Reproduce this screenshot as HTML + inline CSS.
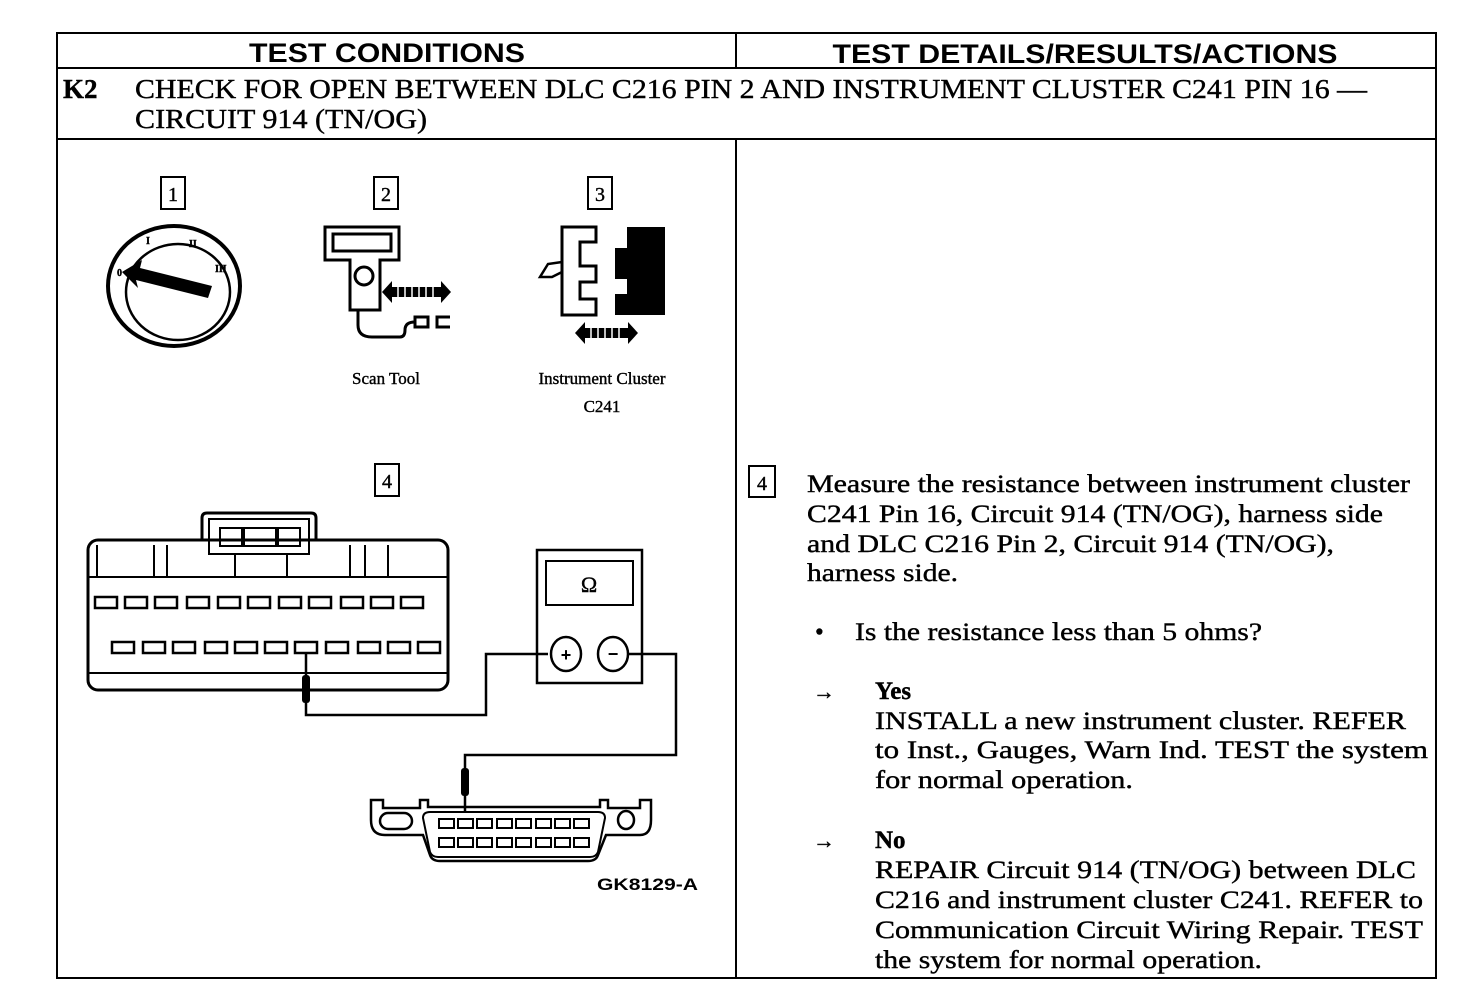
<!DOCTYPE html>
<html><head><meta charset="utf-8"><style>
html,body{margin:0;padding:0;background:#fff;}
svg{display:block;}
.s{font-family:"Liberation Serif",serif;fill:#000;stroke:#000;stroke-width:0.4;}
.h{font-family:"Liberation Sans",sans-serif;font-weight:bold;fill:#000;}
</style></head><body>
<svg width="1472" height="986" viewBox="0 0 1472 986" xmlns="http://www.w3.org/2000/svg">
<g stroke="#000" fill="none" stroke-width="2">
<rect x="57" y="33" width="1379" height="945"/>
<line x1="57" y1="68" x2="1436" y2="68"/>
<line x1="57" y1="139" x2="1436" y2="139"/>
<line x1="736" y1="33" x2="736" y2="68"/>
<line x1="736" y1="139" x2="736" y2="978"/>
</g>
<text class="h" x="387" y="62" font-size="27" text-anchor="middle" textLength="276" lengthAdjust="spacingAndGlyphs">TEST CONDITIONS</text>
<text class="h" x="1085" y="63" font-size="27" text-anchor="middle" textLength="505" lengthAdjust="spacingAndGlyphs">TEST DETAILS/RESULTS/ACTIONS</text>
<text class="s" x="63" y="98" font-size="27" font-weight="bold">K2</text>
<text class="s" x="135" y="98" font-size="27" textLength="1232" lengthAdjust="spacingAndGlyphs">CHECK FOR OPEN BETWEEN DLC C216 PIN 2 AND INSTRUMENT CLUSTER C241 PIN 16 —</text>
<text class="s" x="135" y="128" font-size="27" textLength="292" lengthAdjust="spacingAndGlyphs">CIRCUIT 914 (TN/OG)</text>

<g stroke="#000" stroke-width="2" fill="none">
<rect x="161" y="177" width="24" height="32"/>
<rect x="374" y="177" width="24" height="32"/>
<rect x="588" y="177" width="24" height="32"/>
<rect x="375" y="464" width="24" height="32"/>
<rect x="749" y="466" width="26" height="31"/>
</g>
<g class="s" font-size="20" text-anchor="middle">
<text x="173" y="201">1</text><text x="386" y="201">2</text><text x="600" y="201">3</text>
<text x="387" y="488">4</text><text x="762" y="490">4</text>
</g>

<g stroke="#000" fill="none">
<ellipse cx="174" cy="286" rx="66" ry="60" stroke-width="4"/>
<ellipse cx="178" cy="292" rx="52" ry="48" stroke-width="2.5"/>
</g>
<polygon points="122,272 142,260 140,268 212,286 208,298 136,280 138,288" fill="#000"/>
<g class="s" font-size="10" font-weight="bold"><text x="117" y="276">0</text><text x="146" y="244">I</text><text x="189" y="247">II</text><text x="215" y="272">III</text></g>

<g stroke="#000" fill="none" stroke-width="3">
<path d="M325,227 H399 V260 H380 V310 H350 V260 H325 Z"/>
<rect x="333" y="234" width="58" height="17"/>
<circle cx="364" cy="276" r="9"/>
<path d="M358,310 V325 Q358,337 372,337 H400 Q405,337 405,330 Q405,322 415,322"/>
<rect x="415" y="317" width="13" height="10"/>
<path d="M450,317 H437 V327 H450"/>
</g>
<g fill="#000"><polygon points="382,292 392,281 392,303"/><polygon points="451,292 441,281 441,303"/><rect x="391" y="287" width="51" height="10"/></g>
<g stroke="#fff" stroke-width="1.5"><line x1="398" y1="287" x2="398" y2="297"/><line x1="405" y1="287" x2="405" y2="297"/><line x1="412" y1="287" x2="412" y2="297"/><line x1="419" y1="287" x2="419" y2="297"/><line x1="426" y1="287" x2="426" y2="297"/><line x1="433" y1="287" x2="433" y2="297"/></g>

<path d="M562,227 H596 V242 H580 V266 H596 V282 H580 V299 H596 V315 H562 Z" stroke="#000" stroke-width="3" fill="#fff"/>
<path d="M562,262 L548,264 L540,277 L552,277 L562,272" stroke="#000" stroke-width="2.5" fill="none"/>
<path d="M627,227 H665 V315 H615 V294 H627 V279 H615 V248 H627 Z" fill="#000"/>
<g fill="#000"><polygon points="575,333 585,322 585,344"/><polygon points="638,333 628,322 628,344"/><rect x="584" y="328" width="45" height="10"/></g>
<g stroke="#fff" stroke-width="1.5"><line x1="591" y1="328" x2="591" y2="338"/><line x1="598" y1="328" x2="598" y2="338"/><line x1="605" y1="328" x2="605" y2="338"/><line x1="612" y1="328" x2="612" y2="338"/><line x1="619" y1="328" x2="619" y2="338"/></g>
<text class="s" x="386" y="384" font-size="17" text-anchor="middle">Scan Tool</text>
<text class="s" x="602" y="384" font-size="17" text-anchor="middle">Instrument Cluster</text>
<text class="s" x="602" y="412" font-size="17" text-anchor="middle">C241</text>

<g stroke="#000" fill="none" stroke-width="3">
<rect x="88" y="540" width="360" height="150" rx="10"/>
<path d="M202,540 V518 Q202,513 207,513 H311 Q316,513 316,518 V540"/>
<rect x="209" y="519" width="100" height="35" stroke-width="2"/>
<line x1="88" y1="577" x2="448" y2="577" stroke-width="2"/>
<line x1="88" y1="673" x2="448" y2="673" stroke-width="2"/>
</g>
<g stroke="#000" fill="none" stroke-width="2">
<rect x="220" y="528" width="22" height="18"/><rect x="244" y="528" width="32" height="18"/><rect x="278" y="528" width="22" height="18"/>
<line x1="235" y1="554" x2="235" y2="577"/><line x1="287" y1="554" x2="287" y2="577"/>
<line x1="97" y1="545" x2="97" y2="577"/><line x1="154" y1="545" x2="154" y2="577"/><line x1="167" y1="545" x2="167" y2="577"/>
<line x1="350" y1="545" x2="350" y2="577"/><line x1="365" y1="545" x2="365" y2="577"/><line x1="388" y1="545" x2="388" y2="577"/>
</g>
<g stroke="#000" fill="none" stroke-width="2.5">
<rect x="95" y="597" width="22" height="11"/><rect x="125" y="597" width="22" height="11"/><rect x="155" y="597" width="22" height="11"/><rect x="187" y="597" width="22" height="11"/><rect x="218" y="597" width="22" height="11"/><rect x="248" y="597" width="22" height="11"/><rect x="279" y="597" width="22" height="11"/><rect x="309" y="597" width="22" height="11"/><rect x="341" y="597" width="22" height="11"/><rect x="371" y="597" width="22" height="11"/><rect x="401" y="597" width="22" height="11"/>
<rect x="112" y="642" width="22" height="11"/><rect x="143" y="642" width="22" height="11"/><rect x="173" y="642" width="22" height="11"/><rect x="205" y="642" width="22" height="11"/><rect x="235" y="642" width="22" height="11"/><rect x="265" y="642" width="22" height="11"/><rect x="295" y="642" width="22" height="11"/><rect x="326" y="642" width="22" height="11"/><rect x="358" y="642" width="22" height="11"/><rect x="388" y="642" width="22" height="11"/><rect x="418" y="642" width="22" height="11"/>
</g>
<g stroke="#000" fill="none" stroke-width="2.5">
<path d="M306,653 V715 H486 V654 H548"/>
<path d="M627,654 H676 V755 H465 V813"/>
</g>
<rect x="302" y="675" width="8" height="28" rx="3" fill="#000"/>
<rect x="461" y="768" width="8" height="28" rx="3" fill="#000"/>
<g stroke="#000" fill="none" stroke-width="2.5">
<rect x="537" y="550" width="105" height="133"/>
<rect x="546" y="561" width="87" height="44" stroke-width="2"/>
<ellipse cx="566" cy="654" rx="15" ry="17"/>
<ellipse cx="613" cy="654" rx="15" ry="17"/>
</g>
<text class="s" x="589" y="592" font-size="22" text-anchor="middle">Ω</text>
<text class="h" x="566" y="661" font-size="18" text-anchor="middle">+</text>
<text class="h" x="613" y="660" font-size="18" text-anchor="middle">−</text>
<g stroke="#000" fill="none" stroke-width="2.5">
<path d="M371,800 H383 V808 H420 V800 H428 V807 H600 V800 H608 V808 H640 V800 H651 V820 Q651,835 640,835 H606 L598,855 Q596,861 588,861 H440 Q432,861 430,855 L423,835 H385 Q371,835 371,820 Z"/>
<path d="M423,818 Q423,812 430,812 H598 Q605,812 605,818 L598,852 Q596,857 590,857 H438 Q432,857 430,852 Z" stroke-width="2"/>
<rect x="380" y="813" width="32" height="16" rx="8"/>
<ellipse cx="626" cy="820" rx="8" ry="9"/>
</g>
<g stroke="#000" fill="none" stroke-width="2">
<rect x="439" y="819" width="15" height="9"/><rect x="458" y="819" width="15" height="9"/><rect x="477" y="819" width="15" height="9"/><rect x="497" y="819" width="15" height="9"/><rect x="516" y="819" width="15" height="9"/><rect x="536" y="819" width="15" height="9"/><rect x="555" y="819" width="15" height="9"/><rect x="574" y="819" width="15" height="9"/>
<rect x="439" y="838" width="15" height="9"/><rect x="458" y="838" width="15" height="9"/><rect x="477" y="838" width="15" height="9"/><rect x="497" y="838" width="15" height="9"/><rect x="516" y="838" width="15" height="9"/><rect x="536" y="838" width="15" height="9"/><rect x="555" y="838" width="15" height="9"/><rect x="574" y="838" width="15" height="9"/>
</g>
<text class="h" x="597" y="890" font-size="17" textLength="101" lengthAdjust="spacingAndGlyphs">GK8129-A</text>

<g class="s" font-size="25">
<text x="807" y="492" textLength="603" lengthAdjust="spacingAndGlyphs">Measure the resistance between instrument cluster</text>
<text x="807" y="522" textLength="576" lengthAdjust="spacingAndGlyphs">C241 Pin 16, Circuit 914 (TN/OG), harness side</text>
<text x="807" y="552" textLength="527" lengthAdjust="spacingAndGlyphs">and DLC C216 Pin 2, Circuit 914 (TN/OG),</text>
<text x="807" y="581" textLength="151" lengthAdjust="spacingAndGlyphs">harness side.</text>
<text x="815" y="640">•</text>
<text x="855" y="640" textLength="407" lengthAdjust="spacingAndGlyphs">Is the resistance less than 5 ohms?</text>
<text x="813" y="699" font-size="22" font-weight="bold">→</text>
<text x="875" y="699" font-weight="bold">Yes</text>
<text x="875" y="729" textLength="531" lengthAdjust="spacingAndGlyphs">INSTALL a new instrument cluster. REFER</text>
<text x="875" y="758" textLength="553" lengthAdjust="spacingAndGlyphs">to  Inst., Gauges, Warn Ind. TEST the system</text>
<text x="875" y="788" textLength="258" lengthAdjust="spacingAndGlyphs">for normal operation.</text>
<text x="813" y="848" font-size="22" font-weight="bold">→</text>
<text x="875" y="848" font-weight="bold">No</text>
<text x="875" y="878" textLength="541" lengthAdjust="spacingAndGlyphs">REPAIR Circuit 914 (TN/OG) between DLC</text>
<text x="875" y="908" textLength="548" lengthAdjust="spacingAndGlyphs">C216 and instrument cluster C241. REFER to</text>
<text x="875" y="938" textLength="548" lengthAdjust="spacingAndGlyphs">Communication Circuit Wiring Repair. TEST</text>
<text x="875" y="968" textLength="387" lengthAdjust="spacingAndGlyphs">the system for normal operation.</text>
</g>
</svg>
</body></html>
